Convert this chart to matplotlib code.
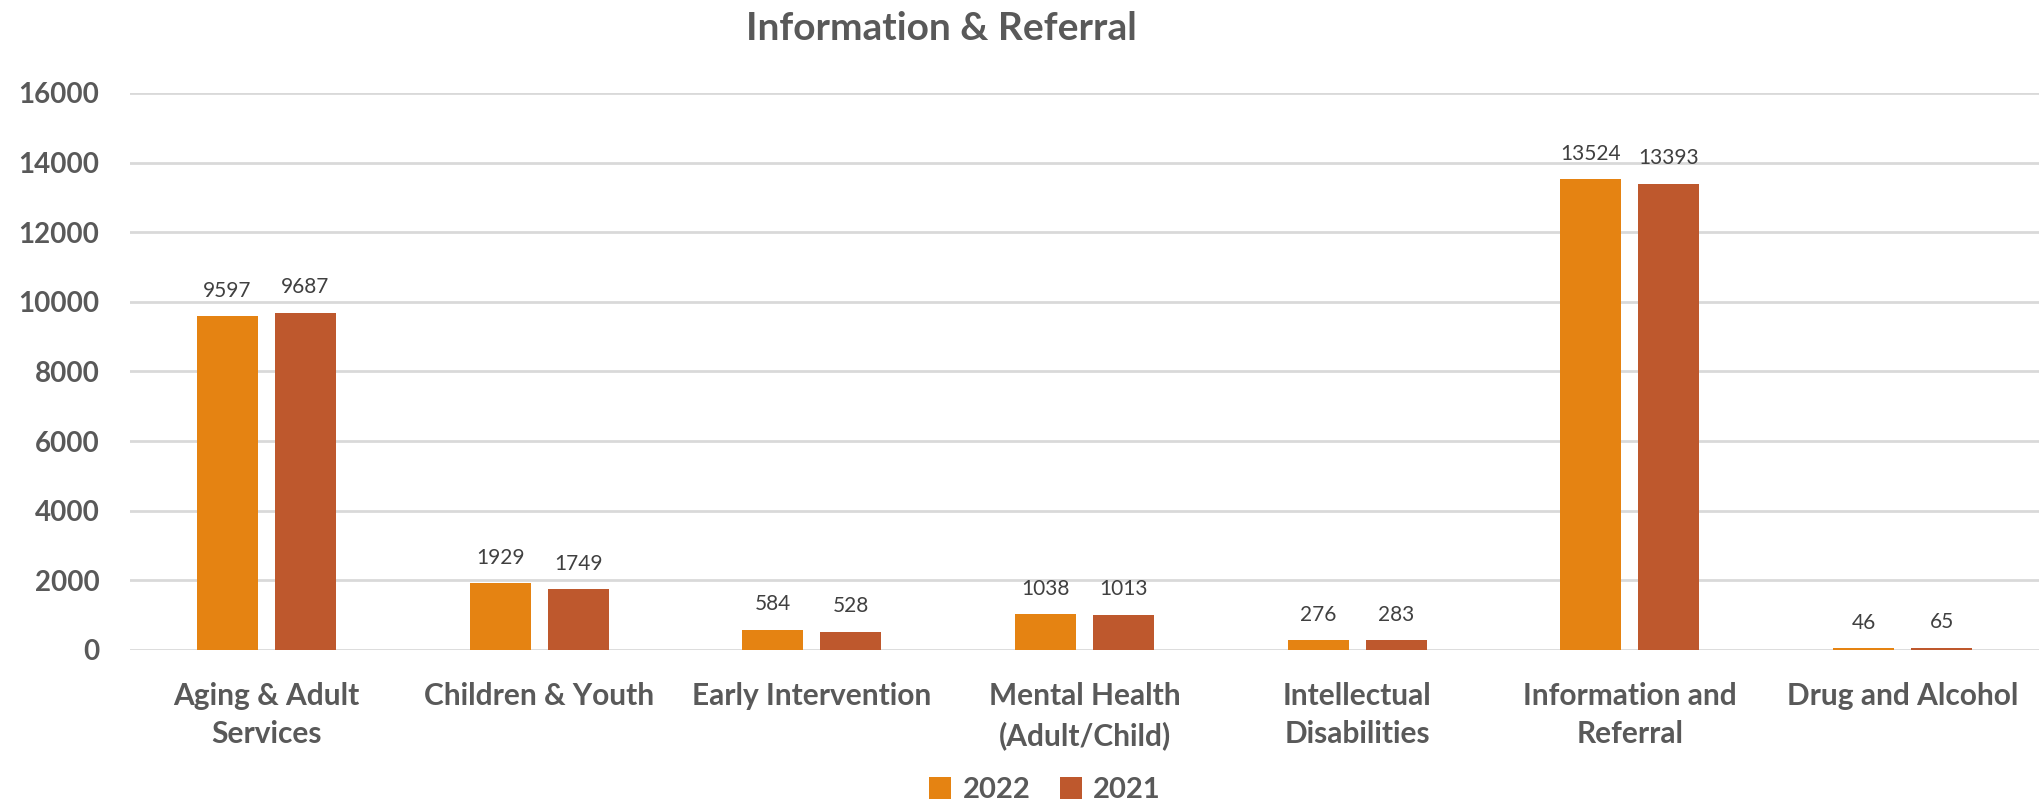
import matplotlib
matplotlib.use("Agg")
import matplotlib.pyplot as plt
import numpy as np

categories = ["Aging & Adult\nServices", "Children & Youth", "Early Intervention",
              "Mental Health\n(Adult/Child)", "Intellectual\nDisabilities",
              "Information and\nReferral", "Drug and Alcohol"]
values_2022 = [9597, 1929, 584, 1038, 276, 13524, 46]
values_2021 = [9687, 1749, 528, 1013, 283, 13393, 65]
series_names = ["2022", "2021"]
yticks = [0, 2000, 4000, 6000, 8000, 10000, 12000, 14000, 16000]
title = "Information & Referral"

plt.rcParams['font.family'] = ['Lato', 'DejaVu Sans']
grey = "#595959"
c22 = "#E58312"
c21 = "#BE582D"

fig = plt.figure(figsize=(20.39, 8.06), dpi=100)
ax = fig.add_axes([130/2039, 1-650/806, 1-130/2039, (650-93)/806])

x = np.arange(len(categories))
w = 0.224
off = 0.143
b1 = ax.bar(x - off, values_2022, w, color=c22, label=series_names[0], zorder=3)
b2 = ax.bar(x + off, values_2021, w, color=c21, label=series_names[1], zorder=3)
for bars in (b1, b2):
    ax.bar_label(bars, padding=11, fontsize=15, color="#404040")

ax.set_xlim(-0.5, len(categories) - 0.5)
ax.set_ylim(0, 16000)
ax.set_yticks(yticks)
ax.set_yticklabels([str(t) for t in yticks], fontsize=20, fontweight='bold', color=grey)
ax.set_xticks(x)
ax.set_xticklabels(categories, fontsize=21.5, fontweight='bold', color=grey, linespacing=1.45)
ax.tick_params(axis='y', length=0, pad=22)
ax.tick_params(axis='x', length=0, pad=23)
ax.grid(axis='y', color="#D9D9D9", linewidth=2, zorder=0)
for s in ax.spines.values():
    s.set_visible(False)

fig.text(941/2039, 1-28/806, title, ha='center', va='center', fontsize=28,
         fontweight='bold', color=grey)

leg = fig.legend(handles=[b1, b2], labels=series_names, loc='center',
                 bbox_to_anchor=(1045/2039, 1-790/806), ncol=2, frameon=False,
                 prop={'size': 21, 'weight': 'bold'}, handlelength=0.75, handleheight=0.75,
                 columnspacing=1.0, handletextpad=0.4)
for t in leg.get_texts():
    t.set_color(grey)

fig.savefig("out.png", dpi=100)
